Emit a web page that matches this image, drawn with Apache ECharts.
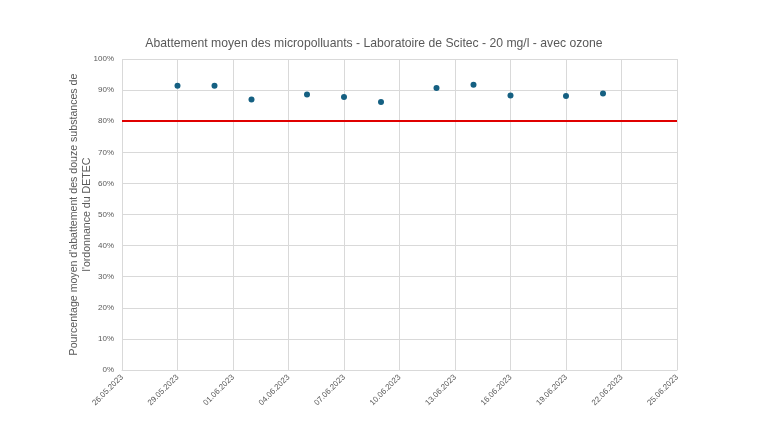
<!DOCTYPE html>
<html>
<head>
<meta charset="utf-8">
<script src="https://cdn.jsdelivr.net/npm/echarts@6/dist/echarts.min.js"></script>
<style>html,body{margin:0;padding:0;background:#fff}#c{width:760px;height:440px}</style>
</head>
<body>
<div id="c"></div>
<script>
var dates = ["29.05.2023","31.05.2023","02.06.2023","05.06.2023","07.06.2023","09.06.2023","12.06.2023","14.06.2023","16.06.2023","19.06.2023","21.06.2023"];
var abattement = [0.914,0.914,0.870,0.886,0.878,0.862,0.907,0.917,0.883,0.881,0.889];
var seuil = 0.8;
var startDate = "26.05.2023";
var endDate = "25.06.2023";

function toDay(s){var p=s.split(".");return Date.UTC(+p[2],+p[1]-1,+p[0])/86400000;}
var d0 = toDay(startDate), d1 = toDay(endDate);
function fmt(off){var d=new Date((d0+off)*86400000);function z(n){return (n<10?"0":"")+n;}return z(d.getUTCDate())+"."+z(d.getUTCMonth()+1)+"."+d.getUTCFullYear();}
var pts = dates.map(function(s,i){return [toDay(s)-d0, abattement[i]];});

var chart = echarts.init(document.getElementById('c'));
chart.setOption({
  animation:false,
  title:{text:"Abattement moyen des micropolluants - Laboratoire de Scitec - 20 mg/l - avec ozone",left:369,textAlign:'center',top:33,textStyle:{fontFamily:'Liberation Sans, Arial, sans-serif',fontSize:12.2,fontWeight:'normal',color:'#595959'}},
  grid:{left:122,right:83,top:59,bottom:70},
  xAxis:{type:'value',min:0,max:d1-d0,interval:3,
    axisLine:{show:true,lineStyle:{color:'#d9d9d9'}},axisTick:{show:false},
    splitLine:{show:true,lineStyle:{color:'#d9d9d9'}},
    axisLabel:{rotate:45,fontSize:8,color:'#595959',fontFamily:'Liberation Sans, Arial, sans-serif',margin:6,formatter:function(v){return fmt(v);}}},
  yAxis:{type:'value',min:0,max:1,interval:0.1,
    name:"Pourcentage moyen d'abattement des douze substances de\nl'ordonnance du DETEC",nameLocation:'middle',nameGap:28,nameMoveOverlap:false,
    nameTextStyle:{fontSize:10.6,color:'#595959',fontFamily:'Liberation Sans, Arial, sans-serif',lineHeight:13},
    axisLine:{show:false},axisTick:{show:false},
    splitLine:{lineStyle:{color:'#d9d9d9'}},
    axisLabel:{fontSize:8,color:'#595959',fontFamily:'Liberation Sans, Arial, sans-serif',margin:8,formatter:function(v){return Math.round(v*100)+'%';}}},
  series:[{type:'scatter',data:pts,symbolSize:6,itemStyle:{color:'#156082',opacity:1},
    markLine:{silent:true,symbol:'none',label:{show:false},lineStyle:{color:'#e00000',width:2,type:'solid'},data:[{yAxis:seuil}]}}]
});
</script>
</body>
</html>
